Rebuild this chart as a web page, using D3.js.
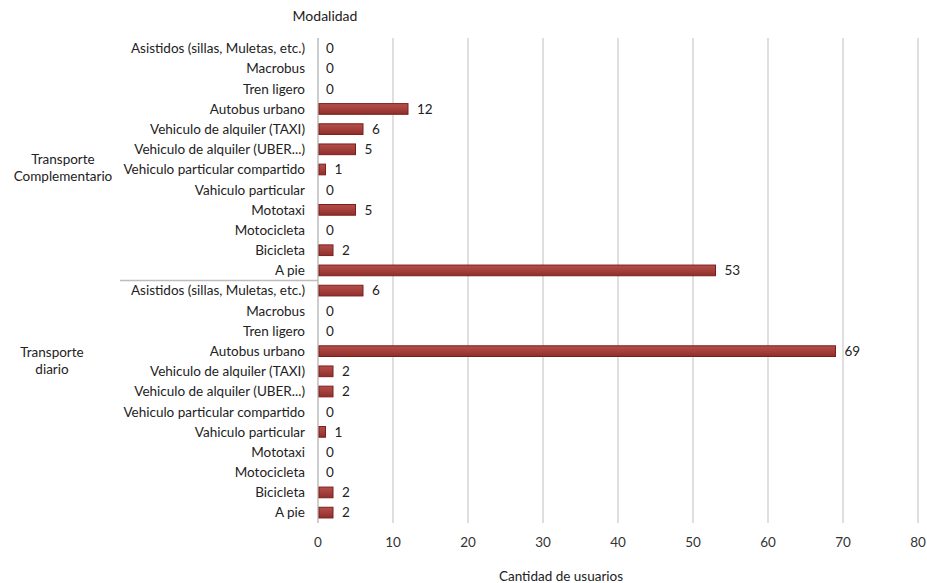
<!DOCTYPE html>
<html><head><meta charset="utf-8">
<script src="https://cdn.jsdelivr.net/npm/d3@7"></script>
<style>body{margin:0;background:#fff;} svg{display:block;}</style>
</head><body>
<svg id="c" width="927" height="583"></svg>
<script>
const categories = ["Asistidos (sillas, Muletas, etc.)","Macrobus","Tren ligero","Autobus urbano","Vehiculo de alquiler (TAXI)","Vehiculo de alquiler (UBER...)","Vehiculo particular compartido","Vahiculo particular","Mototaxi","Motocicleta","Bicicleta","A pie"];
const groups = ["Transporte Complementario","Transporte diario"];
const groupLabelLines = [["Transporte","Complementario"],["Transporte","diario"]];
const complementarioValues = [0,0,0,12,6,5,1,0,5,0,2,53];
const diarioValues = [6,0,0,69,2,2,0,1,0,0,2,2];
const xTicks = [0,10,20,30,40,50,60,70,80];
const title = "Modalidad";
const xTitle = "Cantidad de usuarios";

const rows = [];
[complementarioValues, diarioValues].forEach((vals,gi)=>{
  vals.forEach((v,i)=>rows.push({id:gi+"-"+i, group:gi, cat:categories[i], value:v}));
});

const svg = d3.select("#c");
const font = "Lato, 'Open Sans', sans-serif";
const x = d3.scaleLinear().domain([0,80]).range([318,918]);
const y = d3.scaleBand().domain(rows.map(r=>r.id)).range([38,523]).paddingInner(0.47).paddingOuter(0.25);

const defs = svg.append("defs");
const grad = defs.append("linearGradient").attr("id","bg").attr("x1",0).attr("y1",0).attr("x2",0).attr("y2",1);
grad.append("stop").attr("offset","0%").attr("stop-color","#b4504c");
grad.append("stop").attr("offset","50%").attr("stop-color","#a3403c");
grad.append("stop").attr("offset","100%").attr("stop-color","#8e2e2b");

// grid
svg.append("g").selectAll("line").data(xTicks.slice(1)).join("line")
  .attr("x1",d=>x(d)).attr("x2",d=>x(d)).attr("y1",38).attr("y2",523)
  .attr("stroke","#d4d4d4").attr("stroke-width",1.5);
// axis line
svg.append("line").attr("x1",x(0)).attr("x2",x(0)).attr("y1",38).attr("y2",523)
  .attr("stroke","#bdbdbd").attr("stroke-width",1.5);
// group separator
const sepY = (y(rows[11].id)+y.bandwidth() + y(rows[12].id))/2;
svg.append("line").attr("x1",120).attr("x2",x(0)).attr("y1",sepY).attr("y2",sepY)
  .attr("stroke","#bdbdbd").attr("stroke-width",1.5);

// bars
svg.append("g").selectAll("rect").data(rows.filter(r=>r.value>0)).join("rect")
  .attr("x",x(0)+1).attr("y",d=>y(d.id))
  .attr("width",d=>x(d.value)-x(0)-1).attr("height",y.bandwidth())
  .attr("fill","url(#bg)").attr("stroke","#7d1e1b").attr("stroke-width",1);

// value labels
svg.append("g").selectAll("text").data(rows).join("text")
  .attr("x",d=>d.value>0 ? x(d.value)+9 : x(0)+8)
  .attr("y",d=>y(d.id)+y.bandwidth()/2).attr("dy","0.36em")
  .attr("font-family",font).attr("font-size",13.5).attr("fill","#222")
  .text(d=>d.value);

// category labels
svg.append("g").selectAll("text").data(rows).join("text")
  .attr("x",305).attr("y",d=>y(d.id)+y.bandwidth()/2).attr("dy","0.36em")
  .attr("text-anchor","end").attr("font-family",font).attr("font-size",13.5).attr("fill","#222")
  .text(d=>d.cat);

// group labels
const gCenters = [[63,152],[52,345]];
groupLabelLines.forEach((lines,gi)=>{
  const t = svg.append("text").attr("text-anchor","middle").attr("font-family",font).attr("font-size",13.5).attr("fill","#222");
  lines.forEach((ln,li)=>t.append("tspan").attr("x",gCenters[gi][0]).attr("y",gCenters[gi][1]+li*17+12).text(ln));
});

// x tick labels
svg.append("g").selectAll("text").data(xTicks).join("text")
  .attr("x",d=>x(d)).attr("y",547).attr("text-anchor","middle")
  .attr("font-family",font).attr("font-size",13.5).attr("fill","#333").text(d=>d);

svg.append("text").attr("x",325).attr("y",21).attr("text-anchor","middle")
  .attr("font-family",font).attr("font-size",14).attr("fill","#222").text(title);
svg.append("text").attr("x",561).attr("y",581).attr("text-anchor","middle")
  .attr("font-family",font).attr("font-size",13.5).attr("fill","#222").text(xTitle);
</script>
</body></html>
